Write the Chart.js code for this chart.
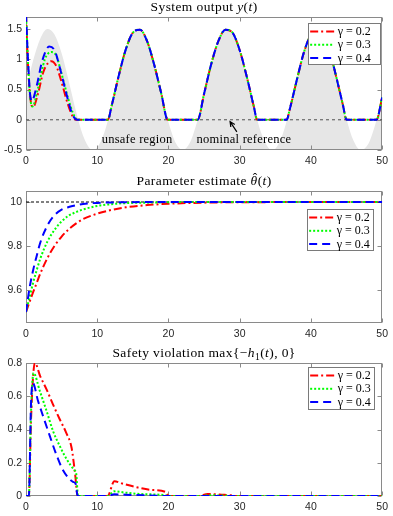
<!DOCTYPE html>
<html>
<head>
<meta charset="utf-8">
<title>Adaptive safety filter - gamma sweep</title>
<script src="https://cdn.jsdelivr.net/npm/chart.js@4.4.1/dist/chart.umd.min.js"></script>
<style>
    html, body { margin: 0; padding: 0; background: #fff; }
    #wrap { position: relative; width: 393px; height: 516px; }
    #wrap canvas { position: absolute; left: 0; top: 0; }
</style>
</head>
<body>
<div id="wrap">
    <canvas id="outputChart" width="393" height="516"></canvas>
    <canvas id="estimateChart" width="393" height="516"></canvas>
    <canvas id="violationChart" width="393" height="516"></canvas>
</div>
<script>
// values
var gammaLabels = ['γ = 0.2', 'γ = 0.3', 'γ = 0.4'];
var xTicks = [0, 10, 20, 30, 40, 50];
var outputTicks = [-0.5, 0, 0.5, 1, 1.5];
var estimateTicks = [9.6, 9.8, 10];
var violationTicks = [0, 0.2, 0.4, 0.6, 0.8];

// top panel: unsafe region boundary (grey area is below it)
var tBound = [0, 1, 2, 3, 4, 5, 6, 7, 8, 9, 9.4, 10, 11, 12, 13, 14, 15, 15.7, 16, 17, 18, 19, 20,
    21, 22, 23, 24, 25, 26, 27, 28, 28.3, 29, 30, 31, 32, 33, 34, 34.6, 35, 36, 37, 38, 39, 40,
    41, 42, 43, 44, 45, 46, 47, 48, 49, 50];
var unsafeBound = [0.50, 0.98, 1.34, 1.50, 1.41, 1.10, 0.64, 0.15, -0.26, -0.48, -0.50, -0.46, -0.21, 0.22, 0.72, 1.16, 1.44, 1.50, 1.49, 1.30, 0.91, 0.43, -0.04,
    -0.38, -0.50, -0.38, -0.04, 0.43, 0.92, 1.30, 1.49, 1.50, 1.44, 1.15, 0.71, 0.21, -0.21, -0.46, -0.50, -0.48, -0.25, 0.16, 0.65, 1.11, 1.41,
    1.50, 1.34, 0.97, 0.49, 0.01, -0.35, -0.50, -0.41, -0.09, 0.37];
var tNominal = [0, 50];
var nominalRef = [0, 0];

// top panel: output y(t), start-up part per gamma, then the common part
var tOutRed = [0, 0.3, 0.65, 1.0, 1.7, 2.4, 3.1, 3.55, 4.25, 4.95, 5.9, 6.6, 7.1];
var outRed = [1.75, 0.85, 0.32, 0.21, 0.44, 0.78, 0.94, 0.97, 0.89, 0.64, 0.25, 0.045, 0];
var tOutGreen = [0, 0.3, 0.6, 0.9, 1.7, 2.65, 3.55, 4.25, 4.95, 5.9, 6.6, 7.2];
var outGreen = [1.75, 0.9, 0.36, 0.22, 0.53, 1.0, 1.12, 1.06, 0.78, 0.36, 0.11, 0];
var tOutBlue = [0, 0.3, 0.55, 0.8, 1.5, 2.2, 2.9, 3.25, 4.05, 4.75, 5.65, 6.35, 6.8, 7.2];
var outBlue = [1.75, 0.95, 0.45, 0.31, 0.56, 0.94, 1.17, 1.21, 1.14, 0.86, 0.44, 0.14, 0.03, 0];
var tOutTail = [11.5, 12, 13, 14, 15, 16, 17, 18, 19, 19.9,
    24.1, 25, 26, 27, 28, 29, 30, 31, 32, 32.45,
    36.6, 37, 38, 39, 40, 41, 42, 43, 44, 44.5, 45,
    49.2, 50];
var outTail = [0, 0.22, 0.72, 1.16, 1.44, 1.49, 1.30, 0.91, 0.43, 0,
    0, 0.43, 0.92, 1.30, 1.49, 1.44, 1.15, 0.71, 0.21, 0,
    0, 0.16, 0.65, 1.11, 1.41, 1.50, 1.34, 0.97, 0.49, 0.24, 0,
    0, 0.37];

// middle panel: parameter estimate
var tEst = [0, 0.5, 1, 1.5, 2, 3, 4, 5, 6, 7, 8, 10, 12, 14, 17, 20, 25, 30, 50];
var estRed = [9.50, 9.546, 9.59, 9.632, 9.674, 9.745, 9.80, 9.843, 9.876, 9.902, 9.922, 9.947, 9.964, 9.976, 9.986, 9.992, 9.997, 9.999, 10];
var estGreen = [9.50, 9.567, 9.633, 9.69, 9.742, 9.82, 9.873, 9.912, 9.938, 9.954, 9.966, 9.982, 9.99, 9.995, 9.997, 9.999, 10, 10, 10];
var estBlue = [9.50, 9.61, 9.69, 9.755, 9.815, 9.893, 9.94, 9.965, 9.977, 9.985, 9.991, 9.996, 9.998, 9.999, 10, 10, 10, 10, 10];
var trueTheta = [10, 10];

// bottom panel: safety violation
var tViolRed = [0, 0.4, 0.7, 1.0, 1.25, 2.0, 2.9, 3.8, 4.75, 5.65, 6.4, 6.9, 7.25,
    11.45, 12.4, 13.5, 15.4, 17.5, 19.6, 20.0, 24.3, 25.5, 27.5, 28.8, 29.2, 50];
var violRed = [0, 0, 0.45, 0.72, 0.80, 0.72, 0.64, 0.55, 0.46, 0.38, 0.29, 0.13, 0,
    0, 0.089, 0.075, 0.054, 0.037, 0.024, 0, 0, 0.012, 0.008, 0.004, 0, 0];
var tViolGreen = [0, 0.4, 0.7, 1.05, 1.95, 2.9, 3.8, 4.75, 5.65, 6.8, 7.05, 7.3,
    11.5, 12.4, 14, 16, 19.5, 19.9, 24.3, 25.5, 28, 28.5, 50];
var violGreen = [0, 0, 0.5, 0.74, 0.63, 0.51, 0.39, 0.30, 0.225, 0.155, 0.135, 0,
    0, 0.028, 0.02, 0.012, 0.005, 0, 0, 0.004, 0.002, 0, 0];
var tViolBlue = [0, 0.4, 0.7, 0.95, 1.7, 2.4, 3.35, 4.25, 5.2, 6.6, 6.95, 7.25,
    11.5, 12.4, 14, 16.5, 19.8, 50];
var violBlue = [0, 0, 0.55, 0.68, 0.57, 0.48, 0.36, 0.25, 0.155, 0.085, 0.075, 0,
    0, 0.01, 0.008, 0.004, 0, 0];

// styles
var gammaColors = ['#ff0000', '#00ff00', '#0000ff'];
var gammaDashes = [[8, 3, 2, 3], [2, 2], [8, 5]];
var serif = '"Liberation Serif", "Times New Roman", serif';
var tickFont = { family: '"Liberation Sans", Arial, sans-serif', size: 10.5 };
var tickColor = '#262626';
var CANVAS_H = 516;

function pts(ts, ys) {
    return ts.map(function(t, i) { return { x: t, y: ys[i] }; });
}

function gammaDataset(i, data) {
    return {
        label: gammaLabels[i],
        inLegend: true,
        data: data,
        borderColor: gammaColors[i],
        borderDash: gammaDashes[i],
        borderWidth: 2,
        borderCapStyle: 'butt',
        pointRadius: 0,
        fill: false,
        cubicInterpolationMode: 'monotone',
        order: 2 - i // blue drawn on top, like the original
    };
}

// MATLAB-like box with inward ticks on all four sides.
// Drawn before the lines so curves sitting on an edge stay visible.
var matlabAxes = {
    id: 'matlabAxes',
    beforeDatasetsDraw: function(chart) {
        var a = chart.chartArea, ctx = chart.ctx;
        var xs = chart.scales.x, ys = chart.scales.y, len = 4;
        ctx.save();
        ctx.strokeStyle = '#8a8a8a';
        ctx.lineWidth = 1;
        ctx.setLineDash([]);
        var l = Math.round(a.left) + 0.5, r = Math.round(a.right) - 0.5;
        var t = Math.round(a.top) + 0.5, b = Math.round(a.bottom) - 0.5;
        ctx.strokeRect(l, t, r - l, b - t);
        ctx.beginPath();
        xs.ticks.forEach(function(tk) {
            var px = Math.round(xs.getPixelForValue(tk.value)) + 0.5;
            ctx.moveTo(px, b); ctx.lineTo(px, b - len);
            ctx.moveTo(px, t); ctx.lineTo(px, t + len);
        });
        ys.ticks.forEach(function(tk) {
            var py = Math.round(ys.getPixelForValue(tk.value)) + 0.5;
            ctx.moveTo(l, py); ctx.lineTo(l + len, py);
            ctx.moveTo(r, py); ctx.lineTo(r - len, py);
        });
        ctx.stroke();
        ctx.restore();
    }
};

// title made of pieces, so math letters can be italic
var panelTitle = {
    id: 'panelTitle',
    afterDraw: function(chart, args, opts) {
        if (!opts.parts) return;
        var ctx = chart.ctx, a = chart.chartArea, size = opts.size || 13.5;
        ctx.save();
        ctx.letterSpacing = '0.4px';
        ctx.fillStyle = '#000';
        ctx.textBaseline = 'alphabetic';
        function fontFor(p) {
            var s = p.sub ? size * 0.72 : size;
            return (p.italic ? 'italic ' : '') + s + 'px ' + serif;
        }
        var total = 0;
        opts.parts.forEach(function(p) {
            ctx.font = fontFor(p);
            p._w = ctx.measureText(p.text).width;
            total += p._w;
        });
        var x = (a.left + a.right) / 2 - total / 2;
        var base = a.top - 6.5;
        opts.parts.forEach(function(p) {
            ctx.font = fontFor(p);
            ctx.textAlign = 'left';
            ctx.fillText(p.text, x, base + (p.sub ? 3 : 0));
            if (p.hat) {
                ctx.font = size + 'px ' + serif;
                ctx.textAlign = 'center';
                ctx.fillText('ˆ', x + p._w / 2 + 1, base - size * 0.22);
            }
            x += p._w;
        });
        ctx.restore();
    }
};

// boxed legend with line samples
var gammaLegend = {
    id: 'gammaLegend',
    afterDraw: function(chart, args, opts) {
        if (opts.width === undefined) return;
        var ctx = chart.ctx, a = chart.chartArea;
        var right = a.right - opts.rightInset, top = a.top + opts.topInset;
        var left = right - opts.width;
        ctx.save();
        ctx.fillStyle = '#fff';
        ctx.fillRect(left, top, opts.width, opts.height);
        ctx.strokeStyle = '#7a7a7a';
        ctx.lineWidth = 1;
        ctx.setLineDash([]);
        ctx.strokeRect(Math.round(left) + 0.5, Math.round(top) + 0.5, Math.round(opts.width) - 1, Math.round(opts.height) - 1);
        var row = 0;
        chart.data.datasets.forEach(function(ds) {
            if (!ds.inLegend) return;
            var y = top + 8.5 + row * 13.3;
            ctx.beginPath();
            ctx.strokeStyle = ds.borderColor;
            ctx.lineWidth = 2;
            ctx.setLineDash(ds.borderDash);
            ctx.moveTo(left + 2, y);
            ctx.lineTo(left + 26, y);
            ctx.stroke();
            ctx.setLineDash([]);
            ctx.fillStyle = '#000';
            ctx.font = '12px ' + serif;
            ctx.textBaseline = 'middle';
            ctx.textAlign = 'left';
            ctx.fillText(ds.label, left + 29.5, y + 0.5);
            row++;
        });
        ctx.restore();
    }
};

// text labels and arrow placed in data coordinates
var figNotes = {
    id: 'figNotes',
    afterDatasetsDraw: function(chart, args, opts) {
        if (!opts.texts) return;
        var ctx = chart.ctx, xs = chart.scales.x, ys = chart.scales.y;
        ctx.save();
        ctx.fillStyle = '#000';
        ctx.font = '12.5px ' + serif;
        ctx.letterSpacing = '0.25px';
        ctx.textAlign = 'center';
        ctx.textBaseline = 'middle';
        opts.texts.forEach(function(n) {
            ctx.fillText(n.text, xs.getPixelForValue(n.x), ys.getPixelForValue(n.y));
        });
        if (opts.arrow) {
            var x0 = xs.getPixelForValue(opts.arrow.from[0]), y0 = ys.getPixelForValue(opts.arrow.from[1]);
            var x1 = xs.getPixelForValue(opts.arrow.to[0]), y1 = ys.getPixelForValue(opts.arrow.to[1]);
            var ang = Math.atan2(y1 - y0, x1 - x0), hl = 5.5;
            ctx.strokeStyle = '#000';
            ctx.lineWidth = 1.2;
            ctx.beginPath();
            ctx.moveTo(x0, y0); ctx.lineTo(x1, y1);
            ctx.moveTo(x1 - hl * Math.cos(ang - 0.45), y1 - hl * Math.sin(ang - 0.45));
            ctx.lineTo(x1, y1);
            ctx.lineTo(x1 - hl * Math.cos(ang + 0.45), y1 - hl * Math.sin(ang + 0.45));
            ctx.stroke();
        }
        ctx.restore();
    }
};

function fixedTicks(values) {
    return function(scale) {
        scale.ticks = values.map(function(v) { return { value: v }; });
    };
}

function panelOptions(top, bottom, yMin, yMax, yTicks, pluginOpts) {
    // grey area is painted before the box, so the box stays on top of it
    var plugins = { legend: { display: false }, tooltip: { enabled: false }, filler: { drawTime: 'beforeDatasetsDraw' } };
    Object.keys(pluginOpts).forEach(function(k) { plugins[k] = pluginOpts[k]; });
    return {
        responsive: false,
        animation: false,
        events: [],
        layout: { padding: { left: 0, right: 8, top: top, bottom: CANVAS_H - bottom - 20 } },
        scales: {
            x: {
                type: 'linear', min: 0, max: 50,
                afterBuildTicks: fixedTicks(xTicks),
                afterFit: function(s) { s.height = 20; },
                grid: { display: false, drawTicks: false },
                border: { display: false },
                ticks: { padding: 5, color: tickColor, font: tickFont, maxRotation: 0, autoSkip: false,
                    callback: function(v) { return String(v); } }
            },
            y: {
                type: 'linear', min: yMin, max: yMax,
                afterBuildTicks: fixedTicks(yTicks),
                afterFit: function(s) { s.width = 26; },
                grid: { display: false, drawTicks: false },
                border: { display: false },
                ticks: { padding: 4, color: tickColor, font: tickFont, autoSkip: false,
                    callback: function(v) { return String(v); } }
            }
        },
        plugins: plugins
    };
}

var allPlugins = [matlabAxes, panelTitle, gammaLegend, figNotes];

// System output y(t)
new Chart(document.getElementById('outputChart'), {
    type: 'line',
    data: {
        datasets: [
            gammaDataset(0, pts(tOutRed.concat(tOutTail), outRed.concat(outTail))),
            gammaDataset(1, pts(tOutGreen.concat(tOutTail), outGreen.concat(outTail))),
            gammaDataset(2, pts(tOutBlue.concat(tOutTail), outBlue.concat(outTail))),
            {
                data: pts(tNominal, nominalRef),
                borderColor: '#505050', borderWidth: 1, borderDash: [3, 3],
                pointRadius: 0, fill: false, order: 3
            },
            {
                data: pts(tBound, unsafeBound),
                borderWidth: 0, borderColor: 'rgba(0,0,0,0)', backgroundColor: '#e6e6e6',
                pointRadius: 0, fill: 'start', cubicInterpolationMode: 'monotone', order: 4
            }
        ]
    },
    options: panelOptions(17, 150, -0.5, 1.7, outputTicks, {
        panelTitle: { parts: [{ text: 'System output ' }, { text: 'y', italic: true }, { text: '(' }, { text: 't', italic: true }, { text: ')' }] },
        gammaLegend: { rightInset: 1, topInset: 6, width: 73, height: 42 },
        figNotes: {
            texts: [{ text: 'unsafe region', x: 15.6, y: -0.33 }, { text: 'nominal reference', x: 30.6, y: -0.33 }],
            arrow: { from: [29.6, -0.2], to: [28.65, -0.03] }
        }
    }),
    plugins: allPlugins
});

// Parameter estimate
new Chart(document.getElementById('estimateChart'), {
    type: 'line',
    data: {
        datasets: [
            gammaDataset(0, pts(tEst, estRed)),
            gammaDataset(1, pts(tEst, estGreen)),
            gammaDataset(2, pts(tEst, estBlue)),
            {
                data: pts(tNominal, trueTheta),
                borderColor: '#000', borderWidth: 1, borderDash: [3, 2],
                pointRadius: 0, fill: false, order: 3
            }
        ]
    },
    options: panelOptions(191, 323, 9.45, 10.05, estimateTicks, {
        panelTitle: { parts: [{ text: 'Parameter estimate ' }, { text: 'θ', italic: true, hat: true }, { text: '(' }, { text: 't', italic: true }, { text: ')' }] },
        gammaLegend: { rightInset: 8, topInset: 18, width: 67, height: 42 }
    }),
    plugins: allPlugins
});

// Safety violation
new Chart(document.getElementById('violationChart'), {
    type: 'line',
    data: {
        datasets: [
            gammaDataset(0, pts(tViolRed, violRed)),
            gammaDataset(1, pts(tViolGreen, violGreen)),
            gammaDataset(2, pts(tViolBlue, violBlue))
        ]
    },
    options: panelOptions(363, 496, 0, 0.8, violationTicks, {
        panelTitle: { parts: [{ text: 'Safety violation max{−' }, { text: 'h', italic: true }, { text: '1', sub: true }, { text: '(' }, { text: 't', italic: true }, { text: '), 0}' }] },
        gammaLegend: { rightInset: 7, topInset: 4, width: 67, height: 43 }
    }),
    plugins: allPlugins
});
</script>
</body>
</html>
